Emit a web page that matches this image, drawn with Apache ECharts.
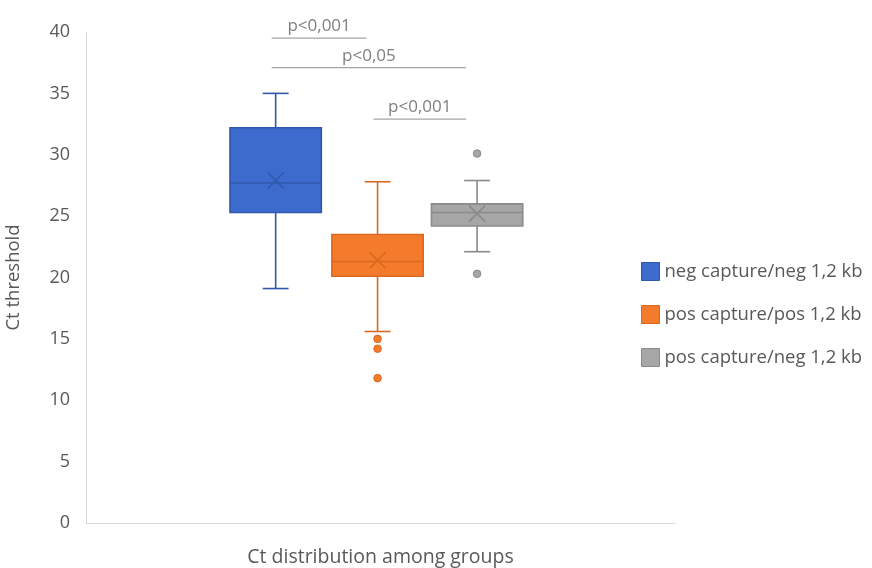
<!DOCTYPE html>
<html>
<head>
<meta charset="utf-8">
<script src="https://cdn.jsdelivr.net/npm/echarts@6/dist/echarts.min.js"></script>
<style>html,body{margin:0;padding:0;background:#fff;}#c{width:872px;height:568px;}</style>
</head>
<body>
<div id="c"></div>
<script>
// ---- data ----
const categories = ['Ct distribution among groups'];
const groups = ['neg capture/neg 1,2 kb', 'pos capture/pos 1,2 kb', 'pos capture/neg 1,2 kb'];
const whiskerLow = [19.1, 15.6, 22.1];
const q1 = [25.3, 20.1, 24.2];
const median = [27.7, 21.3, 25.3];
const q3 = [32.2, 23.5, 26.0];
const whiskerHigh = [35.0, 27.8, 27.9];
const means = [27.9, 21.4, 25.2];
const outliers = [[], [15.0, 14.2, 11.8], [30.1, 20.3]];
const sigFrom = [0, 0, 1];
const sigTo = [1, 2, 2];
const sigLevel = [39.5, 37.1, 32.9];
const sigText = ['p<0,001', 'p<0,05', 'p<0,001'];
const yTicks = [0, 5, 10, 15, 20, 25, 30, 35, 40];

// ---- styles ----
const FONT = 'Open Sans';
const fills = ['#3c6bcd', '#f47b2b', '#a6a6a6'];
const borders = ['#2f58aa', '#d96820', '#8a8a8a'];
const offsets = [-0.178, -0.005, 0.164]; // fraction of band width
const boxFrac = 0.155;
const capFrac = 0.022;

function groupX(api, g) {
  const band = api.size([1, 0])[0];
  return api.coord([0, 0])[0] + offsets[g] * band;
}

const series = groups.map((name, g) => ({
  name: name,
  type: 'custom',
  clip: false,
  itemStyle: { color: fills[g], borderColor: borders[g] },
  data: [[0, whiskerLow[g], q1[g], median[g], q3[g], whiskerHigh[g], means[g]]],
  renderItem: function (params, api) {
    const band = api.size([1, 0])[0];
    const cx = groupX(api, g);
    const half = boxFrac * band / 2;
    const cap = capFrac * band;
    const y = v => api.coord([0, v])[1];
    const lo = y(api.value(1)), a = y(api.value(2)), m = y(api.value(3)), b = y(api.value(4)), hi = y(api.value(5)), mn = y(api.value(6));
    const ls = { stroke: borders[g], lineWidth: 1.6 };
    const xs = 8;
    return {
      type: 'group',
      children: [
        { type: 'line', shape: { x1: cx, y1: hi, x2: cx, y2: b }, style: ls },
        { type: 'line', shape: { x1: cx, y1: a, x2: cx, y2: lo }, style: ls },
        { type: 'line', shape: { x1: cx - cap, y1: hi, x2: cx + cap, y2: hi }, style: ls },
        { type: 'line', shape: { x1: cx - cap, y1: lo, x2: cx + cap, y2: lo }, style: ls },
        { type: 'rect', shape: { x: cx - half, y: b, width: 2 * half, height: a - b }, style: { fill: fills[g], stroke: borders[g], lineWidth: 1.6 } },
        { type: 'line', shape: { x1: cx - half, y1: m, x2: cx + half, y2: m }, style: ls },
        { type: 'line', shape: { x1: cx - xs, y1: mn - xs, x2: cx + xs, y2: mn + xs }, style: ls },
        { type: 'line', shape: { x1: cx - xs, y1: mn + xs, x2: cx + xs, y2: mn - xs }, style: ls }
      ]
    };
  }
}));

const outlierData = [];
outliers.forEach((arr, g) => arr.forEach(v => outlierData.push([g, v])));
series.push({
  name: 'outliers',
  type: 'custom',
  clip: false,
  data: outlierData,
  renderItem: function (params, api) {
    const g = api.value(0);
    const cx = groupX(api, g);
    const cy = api.coord([0, api.value(1)])[1];
    return { type: 'circle', shape: { cx: cx, cy: cy, r: 3.8 }, style: { fill: fills[g], stroke: borders[g], lineWidth: 1 } };
  }
});

const sigData = sigFrom.map((f, i) => [f, sigTo[i], sigLevel[i], i]);
series.push({
  name: 'significance',
  type: 'custom',
  clip: false,
  data: sigData,
  renderItem: function (params, api) {
    const x1 = groupX(api, api.value(0)) - 4;
    const x2 = groupX(api, api.value(1)) - 11;
    const yy = api.coord([0, api.value(2)])[1];
    return {
      type: 'group',
      children: [
        { type: 'line', shape: { x1: x1, y1: yy, x2: x2, y2: yy }, style: { stroke: '#a6a6a6', lineWidth: 1.3 } },
        { type: 'text', x: (x1 + x2) / 2, y: yy - 3, style: { text: sigText[api.value(3)], fill: '#7f7f7f', font: '17px "' + FONT + '"', align: 'center', verticalAlign: 'bottom' } }
      ]
    };
  }
});

const chart = echarts.init(document.getElementById('c'));
chart.setOption({
  animation: false,
  textStyle: { fontFamily: FONT },
  grid: { left: 86, right: 197, top: 32, bottom: 45, containLabel: false, outerBoundsMode: 'none' },
  legend: {
    data: groups,
    orient: 'vertical',
    left: 636, top: 257,
    itemGap: 24, itemWidth: 18, itemHeight: 18,
    icon: 'rect',
    textStyle: { fontSize: 18.5, color: '#595959', fontFamily: FONT },
    itemStyle: { borderWidth: 1 }
  },
  xAxis: {
    type: 'category',
    data: categories,
    name: categories[0],
    nameLocation: 'middle',
    nameGap: 24,
    nameTextStyle: { fontSize: 19.5, color: '#595959' },
    axisLabel: { show: false },
    axisTick: { show: false },
    axisLine: { lineStyle: { color: '#d9d9d9' } }
  },
  yAxis: {
    type: 'value',
    min: yTicks[0], max: yTicks[yTicks.length - 1], interval: yTicks[1] - yTicks[0],
    name: 'Ct threshold',
    nameLocation: 'middle',
    nameGap: 63,
    nameTextStyle: { fontSize: 18.5, color: '#595959' },
    axisLabel: { fontSize: 18, color: '#595959', margin: 16 },
    axisLine: { show: true, lineStyle: { color: '#d9d9d9' } },
    axisTick: { show: false },
    splitLine: { show: false }
  },
  series: series
});
</script>
</body>
</html>
